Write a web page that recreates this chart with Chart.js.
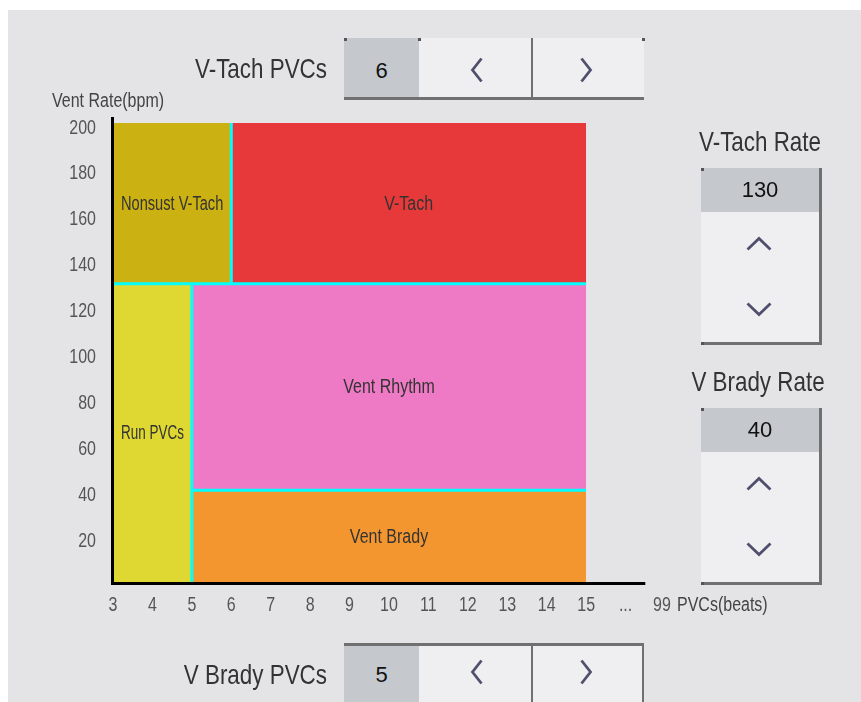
<!DOCTYPE html>
<html><head><meta charset="utf-8">
<script src="https://cdn.jsdelivr.net/npm/chart.js@4.4.1/dist/chart.umd.min.js"></script>
<style>
html,body{margin:0;padding:0;background:#fff;width:861px;height:702px;overflow:hidden;position:relative;}
#panel{position:absolute;left:8px;top:10px;width:853px;height:692px;background:#e4e4e6;}
#c{position:absolute;left:0;top:0;}
.narrow{font-family:'Liberation Sans',Arial,sans-serif;color:#333;}
.ttl{position:absolute;font-size:28px;line-height:40px;height:40px;white-space:nowrap;}
.r{transform:scaleX(0.8);transform-origin:100% 50%;text-align:right;}
.ctr{transform:scaleX(0.8);transform-origin:50% 50%;text-align:center;}
.val{position:absolute;font-family:'Liberation Sans',Arial,sans-serif;font-size:22px;color:#111;text-align:center;}
.box{position:absolute;box-sizing:border-box;}
.cell{position:absolute;}
.chev{position:absolute;overflow:visible;}
.dot{position:absolute;width:3px;height:3px;background:#555;}
</style></head>
<body>
<div id="panel"></div>
<canvas id="c" width="861" height="702"></canvas>

<!-- top control -->
<div class="ttl narrow r" style="right:534px;top:49px;">V-Tach PVCs</div>
<div class="box" style="left:344px;top:38px;width:300px;height:62px;border-bottom:3px solid #707070;">
  <div class="cell" style="left:0;top:0;width:75px;height:59px;background:#c5c9cd;"></div>
  <div class="cell" style="left:75px;top:0;width:112px;height:59px;background:#efeff1;"></div>
  <div class="cell" style="left:187px;top:0;width:2px;height:59px;background:#707070;"></div>
  <div class="cell" style="left:189px;top:0;width:111px;height:59px;background:#efeff1;"></div>
</div>
<div class="dot" style="left:344px;top:38px"></div><div class="dot" style="left:418px;top:38px"></div><div class="dot" style="left:642px;top:38px"></div>
<div class="val" id="vTachPVCsVal" style="left:344px;top:56px;width:75px;height:30px;line-height:30px;"></div>
<svg class="chev" style="left:471px;top:57px" width="12" height="26"><polyline points="10.5,1.5 1.5,13 10.5,24.5" fill="none" stroke="#50506e" stroke-width="2.8"/></svg>
<svg class="chev" style="left:580px;top:57px" width="12" height="26"><polyline points="1.5,1.5 10.5,13 1.5,24.5" fill="none" stroke="#50506e" stroke-width="2.8"/></svg>

<!-- bottom control -->
<div class="ttl narrow r" style="right:534px;top:655px;">V Brady PVCs</div>
<div class="box" style="left:344px;top:643px;width:300px;height:59px;border-top:3px solid #707070;border-right:2px solid #707070;">
  <div class="cell" style="left:0;top:0;width:75px;height:56px;background:#c5c9cd;"></div>
  <div class="cell" style="left:75px;top:0;width:112px;height:56px;background:#efeff1;"></div>
  <div class="cell" style="left:187px;top:0;width:2px;height:56px;background:#707070;"></div>
  <div class="cell" style="left:189px;top:0;width:109px;height:56px;background:#efeff1;"></div>
</div>
<div class="val" id="vBradyPVCsVal" style="left:344px;top:660px;width:75px;height:30px;line-height:30px;"></div>
<svg class="chev" style="left:471px;top:659px" width="12" height="26"><polyline points="10.5,1.5 1.5,13 10.5,24.5" fill="none" stroke="#50506e" stroke-width="2.8"/></svg>
<svg class="chev" style="left:580px;top:659px" width="12" height="26"><polyline points="1.5,1.5 10.5,13 1.5,24.5" fill="none" stroke="#50506e" stroke-width="2.8"/></svg>

<!-- right: V-Tach Rate -->
<div class="ttl narrow ctr" style="left:660px;width:200px;top:122px;">V-Tach Rate</div>
<div class="box" style="left:701px;top:168px;width:121px;height:177px;background:#efeff1;border-right:3px solid #707070;border-bottom:3px solid #707070;">
  <div class="cell" style="left:0;top:0;width:118px;height:44px;background:#c5c9cd;"></div>
</div>
<div class="dot" style="left:701px;top:168px"></div><div class="dot" style="left:701px;top:342px"></div>
<div class="val" id="vTachRateVal" style="left:701px;top:168px;width:118px;height:44px;line-height:44px;"></div>
<svg class="chev" style="left:746px;top:237px" width="26" height="14"><polyline points="1.5,12.5 13,1.5 24.5,12.5" fill="none" stroke="#50506e" stroke-width="2.8"/></svg>
<svg class="chev" style="left:746px;top:302px" width="26" height="14"><polyline points="1.5,1.5 13,12.5 24.5,1.5" fill="none" stroke="#50506e" stroke-width="2.8"/></svg>

<!-- right: V Brady Rate -->
<div class="ttl narrow ctr" style="left:658px;width:200px;top:362px;">V Brady Rate</div>
<div class="box" style="left:701px;top:408px;width:121px;height:177px;background:#efeff1;border-right:3px solid #707070;border-bottom:3px solid #707070;">
  <div class="cell" style="left:0;top:0;width:118px;height:44px;background:#c5c9cd;"></div>
</div>
<div class="dot" style="left:701px;top:408px"></div><div class="dot" style="left:701px;top:582px"></div>
<div class="val" id="vBradyRateVal" style="left:701px;top:408px;width:118px;height:44px;line-height:44px;"></div>
<svg class="chev" style="left:746px;top:477px" width="26" height="14"><polyline points="1.5,12.5 13,1.5 24.5,12.5" fill="none" stroke="#50506e" stroke-width="2.8"/></svg>
<svg class="chev" style="left:746px;top:542px" width="26" height="14"><polyline points="1.5,1.5 13,12.5 24.5,1.5" fill="none" stroke="#50506e" stroke-width="2.8"/></svg>

<script>
// ---- data ----
const vTachPVCs = 6;
const vTachRate = 130;
const vBradyPVCs = 5;
const vBradyRate = 40;

const regionNames = ['Nonsust V-Tach', 'V-Tach', 'Run PVCs', 'Vent Rhythm', 'Vent Brady'];
const regionX0 = [3, 6, 3, 5, 5];
const regionX1 = [6, 15, 5, 15, 15];
const regionY0 = [130, 130, 0, 40, 0];
const regionY1 = [200, 200, 130, 130, 40];

const xTickValues = [3, 4, 5, 6, 7, 8, 9, 10, 11, 12, 13, 14, 15, 16, 17];
const xTickLabels = ['3', '4', '5', '6', '7', '8', '9', '10', '11', '12', '13', '14', '15', '...', '99'];
const yTickValues = [20, 40, 60, 80, 100, 120, 140, 160, 180, 200];

const xAxisTitle = 'PVCs(beats)';
const yAxisTitle = 'Vent Rate(bpm)';

// ---- styles ----
const regionColors = ['#ccb112', '#e8393a', '#dfd832', '#ee7ac5', '#f4962f'];
const boundaryColor = '#00ffff';
const FONT = "'Liberation Sans',Arial,sans-serif";
const SQUEEZE = 0.8;

document.getElementById('vTachPVCsVal').textContent = vTachPVCs;
document.getElementById('vBradyPVCsVal').textContent = vBradyPVCs;
document.getElementById('vTachRateVal').textContent = vTachRate;
document.getElementById('vBradyRateVal').textContent = vBradyRate;

const xMin = 3, xMax = 17, xAxisEnd = 16.5, xRegionEnd = 15;
const yMin = 0, yMax = 200;

const fillSets = regionNames.map((n, i) => ({
  label: n,
  data: [{x: regionX0[i], y: regionY1[i]}, {x: regionX1[i], y: regionY1[i]}],
  showLine: true,
  fill: {value: regionY0[i]},
  backgroundColor: regionColors[i],
  borderColor: 'rgba(0,0,0,0)',
  borderWidth: 0,
  pointRadius: 0,
  order: 3
}));

const boundaries = [
  [[vTachPVCs, vTachRate], [vTachPVCs, yMax]],
  [[xMin, vTachRate], [xRegionEnd, vTachRate]],
  [[vBradyPVCs, yMin], [vBradyPVCs, vTachRate]],
  [[vBradyPVCs, vBradyRate], [xRegionEnd, vBradyRate]]
];
const lineSets = boundaries.map((b, i) => ({
  label: 'b' + i,
  data: b.map(p => ({x: p[0], y: p[1]})),
  showLine: true,
  fill: false,
  borderColor: boundaryColor,
  borderWidth: 3,
  pointRadius: 0,
  order: 1
}));

function narrowText(ctx, text, x, y, align, sq) {
  ctx.save();
  ctx.translate(x, y);
  ctx.scale(sq || SQUEEZE, 1);
  ctx.textAlign = align;
  ctx.fillText(text, 0, 0);
  ctx.restore();
}

const overlay = {
  id: 'overlay',
  afterDatasetsDraw(chart) {
    const {ctx, chartArea: a, scales: {x, y}} = chart;
    ctx.save();
    ctx.font = '20px ' + FONT;
    ctx.textBaseline = 'middle';
    ctx.fillStyle = '#333';
    regionNames.forEach((n, i) => {
      const cx = x.getPixelForValue((regionX0[i] + regionX1[i]) / 2);
      const w = x.getPixelForValue(regionX1[i]) - x.getPixelForValue(regionX0[i]);
      const tw = ctx.measureText(n).width * SQUEEZE;
      const sq = tw > w - 16 ? SQUEEZE * (w - 16) / tw : SQUEEZE;
      narrowText(ctx, n, cx, y.getPixelForValue((regionY0[i] + regionY1[i]) / 2) + 1, 'center', sq);
    });
    // axis lines
    ctx.fillStyle = '#000';
    ctx.fillRect(a.left - 2, a.top - 6, 3, a.bottom - a.top + 9);
    ctx.fillRect(a.left - 2, a.bottom, x.getPixelForValue(xAxisEnd) - a.left + 2, 3);
    // tick labels (from the library's axis ticks)
    ctx.fillStyle = '#555';
    x.ticks.forEach(t => {
      narrowText(ctx, xTickLabels[xTickValues.indexOf(t.value)], x.getPixelForValue(t.value) - (t.value === xMax ? 3 : 0), 605, 'center');
    });
    y.ticks.forEach(t => {
      narrowText(ctx, String(t.value), 96, y.getPixelForValue(t.value) + 5, 'right');
    });
    // axis titles
    ctx.fillStyle = '#444';
    narrowText(ctx, yAxisTitle, 52, 101, 'left');
    narrowText(ctx, xAxisTitle, 677, 605, 'left');
    ctx.restore();
  }
};

function zeroPad(s) { s.paddingLeft = 0; s.paddingRight = 0; s.paddingTop = 0; s.paddingBottom = 0; }

new Chart(document.getElementById('c'), {
  type: 'scatter',
  data: {datasets: [...lineSets, ...fillSets]},
  options: {
    responsive: false,
    animation: false,
    devicePixelRatio: 1,
    events: [],
    layout: {padding: {left: 0, top: 123, right: 196, bottom: 80}},
    plugins: {legend: {display: false}, tooltip: {enabled: false}},
    scales: {
      x: {
        type: 'linear', min: xMin, max: xMax,
        grid: {display: false, drawTicks: false},
        border: {display: false},
        afterBuildTicks: s => { s.ticks = xTickValues.map(v => ({value: v})); },
        afterFit: s => { s.height = 40; zeroPad(s); },
        ticks: {display: false, autoSkip: false}
      },
      y: {
        type: 'linear', min: yMin, max: yMax,
        grid: {display: false, drawTicks: false},
        border: {display: false},
        afterBuildTicks: s => { s.ticks = yTickValues.map(v => ({value: v})); },
        afterFit: s => { s.width = 113; zeroPad(s); },
        ticks: {display: false, autoSkip: false}
      }
    }
  },
  plugins: [overlay]
});
</script>
</body></html>
